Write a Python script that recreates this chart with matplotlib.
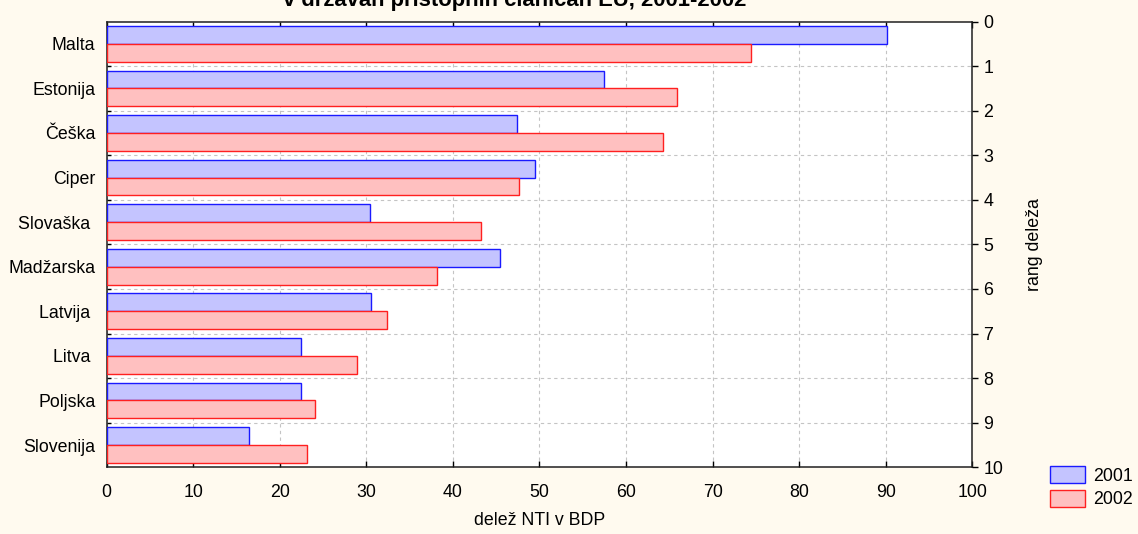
#!/usr/bin/env python

import numpy as np
import matplotlib.pyplot as plt
from matplotlib.ticker import MultipleLocator

plt.rcParams['font.family'] = ['Liberation Sans', 'DejaVu Sans']

countries = ['Malta', 'Estonija', 'Češka', 'Ciper', 'Slovaška ',
             'Madžarska', 'Latvija ', 'Litva ', 'Poljska', 'Slovenija']
years = ['2001', '2002']
share_2001 = [90.1, 57.5, 47.4, 49.5, 30.4, 45.4, 30.5, 22.5, 22.5, 16.5]
share_2002 = [74.4, 65.9, 64.3, 47.7, 43.2, 38.2, 32.4, 28.9, 24.1, 23.1]

title = 'v državah pristopnih članicah EU, 2001-2002'
xlabel = 'delež NTI v BDP'
ylabel_right = 'rang deleža'

bg = '#fffaef'
fs = 12.8

fig = plt.figure(figsize=(11.38, 5.34), dpi=100, facecolor=bg)
ax = fig.add_axes([0.0936, 0.1249, 0.7608, 0.8348])
ax.set_facecolor('white')

pos = np.arange(len(countries))
h = 0.4
b1 = ax.barh(pos + 0.3, share_2001, height=h, color='#c4c4ff',
             edgecolor='#1a1aff', linewidth=1.0, label=years[0], zorder=3)
b2 = ax.barh(pos + 0.7, share_2002, height=h, color='#ffc0c0',
             edgecolor='#ff2020', linewidth=1.0, label=years[1], zorder=3)

ax.set_xlim(0, 100)
ax.set_ylim(10, 0)
ax.xaxis.set_major_locator(MultipleLocator(10))
ax.tick_params(axis='x', which='major', direction='in', length=4,
               top=True, labelsize=fs, pad=12, width=1)

# country names sit in the middle of each rank slot
ax.set_yticks(pos + 0.5)
ax.set_yticklabels(countries, fontsize=fs)
ax.tick_params(axis='y', which='major', length=0, pad=8)
ax.set_yticks(np.arange(1, 10), minor=True)
ax.tick_params(axis='y', which='minor', direction='in', length=3, width=1)

ax.set_axisbelow(True)
ax.grid(axis='x', which='major', color='#c4c4c4', linestyle=(0, (3, 3)), linewidth=0.8)
ax.grid(axis='y', which='minor', color='#c4c4c4', linestyle=(0, (3, 3)), linewidth=0.8)

for s in ax.spines.values():
    s.set_linewidth(1.1)
    s.set_color('#202020')

ax.set_xlabel(xlabel, fontsize=fs, labelpad=8)

# rank scale on the right
ax2 = ax.twinx()
ax2.set_ylim(10, 0)
ax2.set_yticks(np.arange(0, 11))
ax2.tick_params(axis='y', direction='out', length=4, labelsize=fs, pad=4, width=1)
ax2.set_ylabel(ylabel_right, fontsize=fs, labelpad=16)
for s in ax2.spines.values():
    s.set_visible(False)

fig.text(515 / 1138, 1 - 6 / 534, title, ha='center', va='baseline',
         fontsize=15.8, fontweight='bold')

fig.legend(handles=[b1, b2], loc='upper left',
           bbox_to_anchor=(1050 / 1138, 1 - 466 / 534), frameon=False,
           fontsize=fs, handlelength=1.95, handleheight=1.1,
           labelspacing=0.3, handletextpad=0.5, borderpad=0, borderaxespad=0)

fig.savefig('out.png', dpi=100, facecolor=bg)
